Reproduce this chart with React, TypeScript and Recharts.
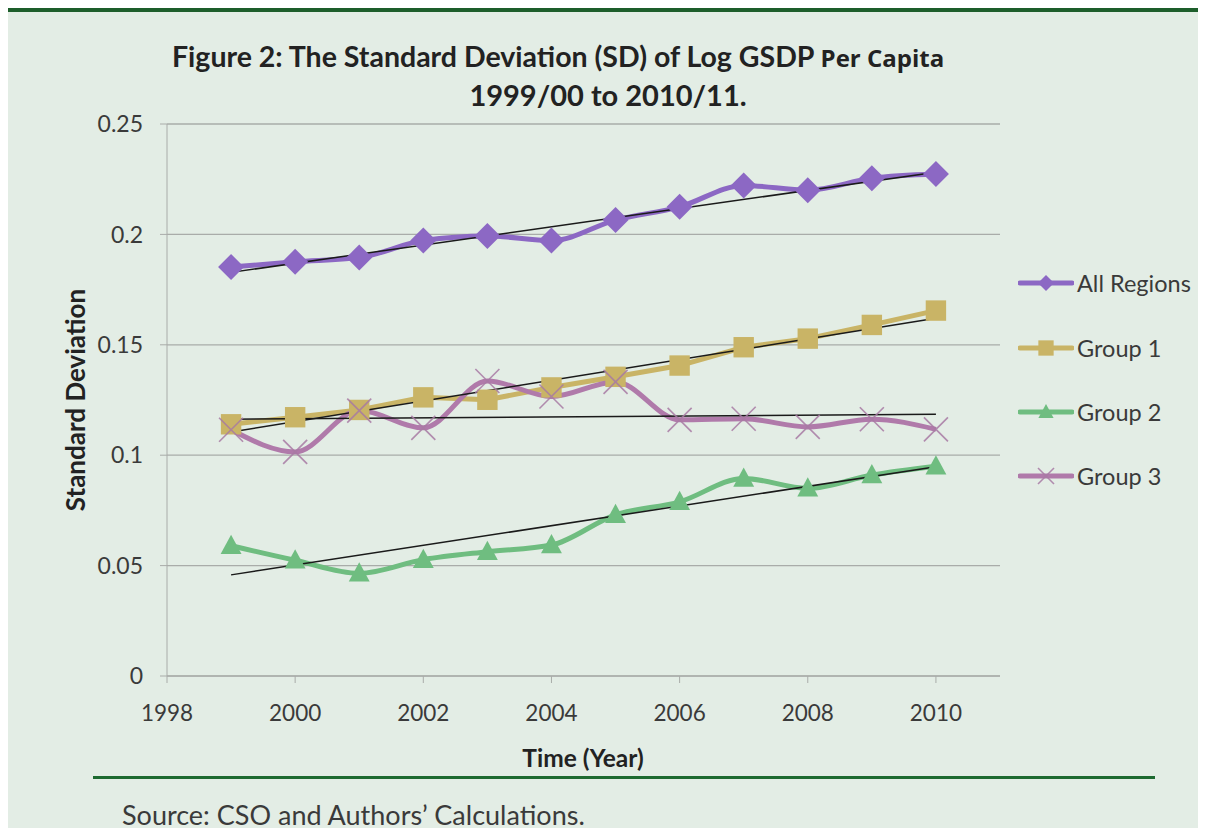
import React from 'react';
import { ComposedChart, Line, XAxis, YAxis, CartesianGrid } from 'recharts';

const years = [1999, 2000, 2001, 2002, 2003, 2004, 2005, 2006, 2007, 2008, 2009, 2010];
const allRegions = [0.1852, 0.1876, 0.1895, 0.1972, 0.1993, 0.1972, 0.2065, 0.2125, 0.2222, 0.2200, 0.2254, 0.2273];
const group1 = [0.1140, 0.1172, 0.1205, 0.1262, 0.1251, 0.1307, 0.1355, 0.1406, 0.1489, 0.1528, 0.1590, 0.1655];
const group2 = [0.0590, 0.0524, 0.0465, 0.0527, 0.0563, 0.0593, 0.0730, 0.0789, 0.0895, 0.0850, 0.0910, 0.0950];
const group3 = [0.1115, 0.1015, 0.1202, 0.1124, 0.1336, 0.1266, 0.1332, 0.1160, 0.1165, 0.1128, 0.1163, 0.1117];

const trendYears = [1999, 2010];
const trendAll = [0.1828, 0.2282];
const trendG1 = [0.1105, 0.1620];
const trendG2 = [0.0458, 0.0948];
const trendG3 = [0.1163, 0.1185];

const yTicks = [0, 0.05, 0.1, 0.15, 0.2, 0.25];
const xTicks = [1998, 2000, 2002, 2004, 2006, 2008, 2010];

const seriesNames = ['All Regions', 'Group 1', 'Group 2', 'Group 3'];
const seriesColors = ['#8c68c4', '#c9b466', '#6fbd80', '#b07aaa'];
const markerColors = ['#8c68c4', '#c9b466', '#6fbd80', '#a87aa4'];
const shapes = ['diamond', 'square', 'triangle', 'cross'];

const FONT = 'Lato, "Open Sans", sans-serif';
const BG = '#e3ede5';
const TEXT = '#3a3a3a';

const toRows = (vals: number[]) => years.map((y, i) => ({ year: y, v: vals[i] }));
const toTrend = (vals: number[]) => trendYears.map((y, i) => ({ year: y, v: vals[i] }));

function Marker({ shape, cx, cy, size, color }: { shape: string; cx: number; cy: number; size: number; color: string }) {
  const s = size / 2;
  if (shape === 'diamond') {
    return <polygon points={`${cx},${cy - s} ${cx + s},${cy} ${cx},${cy + s} ${cx - s},${cy}`} fill={color} />;
  }
  if (shape === 'square') {
    const q = s * 0.85;
    return <rect x={cx - q} y={cy - q} width={q * 2} height={q * 2} fill={color} />;
  }
  if (shape === 'triangle') {
    return <polygon points={`${cx},${cy - s} ${cx + s * 0.95},${cy + s * 0.75} ${cx - s * 0.95},${cy + s * 0.75}`} fill={color} />;
  }
  return (
    <g stroke={color} strokeWidth={1.6} opacity={0.85}>
      <line x1={cx - s} y1={cy - s} x2={cx + s} y2={cy + s} />
      <line x1={cx - s} y1={cy + s} x2={cx + s} y2={cy - s} />
    </g>
  );
}

const makeDot = (idx: number, size: number) => (props: any) => {
  const { cx, cy, index } = props;
  if (cx == null || cy == null) return <g key={`d${idx}-${index}`} />;
  return (
    <g key={`d${idx}-${index}`}>
      <Marker shape={shapes[idx]} cx={cx} cy={cy} size={size} color={markerColors[idx]} />
    </g>
  );
};

const seriesData = [allRegions, group1, group2, group3];
const trendData = [trendAll, trendG1, trendG2, trendG3];
const lineTypes: any[] = ['monotone', 'linear', 'monotone', 'monotone'];
const markerSizes = [26, 24, 22, 24];
const legendY = [283, 348, 412, 476];

export default function App() {
  return (
    <div style={{ position: 'relative', width: 1206, height: 836, margin: -8, background: BG, overflow: 'hidden', fontFamily: FONT }}>
      <div style={{ position: 'absolute', left: 8, top: 8, width: 1198, height: 4, background: '#1d5e2b' }} />
      <div style={{ position: 'absolute', left: 0, top: 39, width: 1206, textAlign: 'center', color: '#222', fontWeight: 700, lineHeight: '34px' }}>
        <div style={{ paddingLeft: 106, textAlign: 'left', whiteSpace: 'nowrap', marginLeft: 66 }}>
          <span style={{ fontSize: 28.5 }}>Figure 2: The Standard Deviation (SD) of Log GSDP </span>
          <span style={{ fontSize: 24, fontFamily: '"Open Sans", sans-serif' }}>Per Capita</span>
        </div>
        <div style={{ fontSize: 29, paddingLeft: 10 }}>1999/00 to 2010/11.</div>
      </div>

      <div style={{ position: 'absolute', left: 0, top: 0 }}>
        <ComposedChart width={1206} height={836} margin={{ top: 124, right: 206, bottom: 100, left: 107 }}>
          <CartesianGrid horizontal={true} vertical={false} stroke="#a9aca9" strokeWidth={1.3} />
          <XAxis
            type="number"
            dataKey="year"
            domain={[1998, 2011]}
            ticks={xTicks}
            allowDataOverflow
            height={60}
            stroke="#a9aca9"
            tickSize={7}
            tickMargin={22}
            tick={{ fill: TEXT, fontSize: 22.5, fontFamily: FONT }}
          />
          <YAxis
            type="number"
            domain={[0, 0.25]}
            ticks={yTicks}
            width={60}
            stroke="#a9aca9"
            tickSize={7}
            tickMargin={17}
            tick={{ fill: TEXT, fontSize: 23, fontFamily: FONT }}
          />
          {seriesData.map((vals, i) => (
            <Line
              key={seriesNames[i]}
              name={seriesNames[i]}
              data={toRows(vals)}
              dataKey="v"
              type={lineTypes[i]}
              stroke={seriesColors[i]}
              strokeWidth={5}
              dot={makeDot(i, markerSizes[i])}
              activeDot={false}
              isAnimationActive={false}
            />
          ))}
          {trendData.map((vals, i) => (
            <Line
              key={`trend-${i}`}
              name={`Linear (${seriesNames[i]})`}
              data={toTrend(vals)}
              dataKey="v"
              type="linear"
              stroke="#1a1a1a"
              strokeWidth={1.5}
              dot={false}
              activeDot={false}
              isAnimationActive={false}
            />
          ))}
        </ComposedChart>
      </div>

      <div style={{ position: 'absolute', left: 75, top: 400, transform: 'translate(-50%, -50%) rotate(-90deg)', fontSize: 26, fontWeight: 700, color: '#222', whiteSpace: 'nowrap' }}>
        Standard Deviation
      </div>
      <div style={{ position: 'absolute', left: 583, top: 757, transform: 'translate(-50%, -50%)', fontSize: 24.5, fontWeight: 700, color: '#222', whiteSpace: 'nowrap' }}>
        Time (Year)
      </div>

      {seriesNames.map((name, i) => (
        <div key={name} style={{ position: 'absolute', left: 1018, top: legendY[i] - 16, height: 32, display: 'flex', alignItems: 'center' }}>
          <svg width={56} height={32}>
            <line x1={2} y1={16} x2={54} y2={16} stroke={seriesColors[i]} strokeWidth={5} strokeLinecap="round" />
            <Marker shape={shapes[i]} cx={28} cy={16} size={shapes[i] === 'square' ? 18 : 16} color={markerColors[i]} />
          </svg>
          <span style={{ fontSize: 23.5, color: TEXT, marginLeft: 3 }}>{name}</span>
        </div>
      ))}

      <div style={{ position: 'absolute', left: 93, top: 776, width: 1062, height: 3, background: '#1d6a30' }} />
      <div style={{ position: 'absolute', left: 122, top: 798, fontSize: 27, color: TEXT, whiteSpace: 'nowrap' }}>
        Source: CSO and Authors’ Calculations.
      </div>
    </div>
  );
}
